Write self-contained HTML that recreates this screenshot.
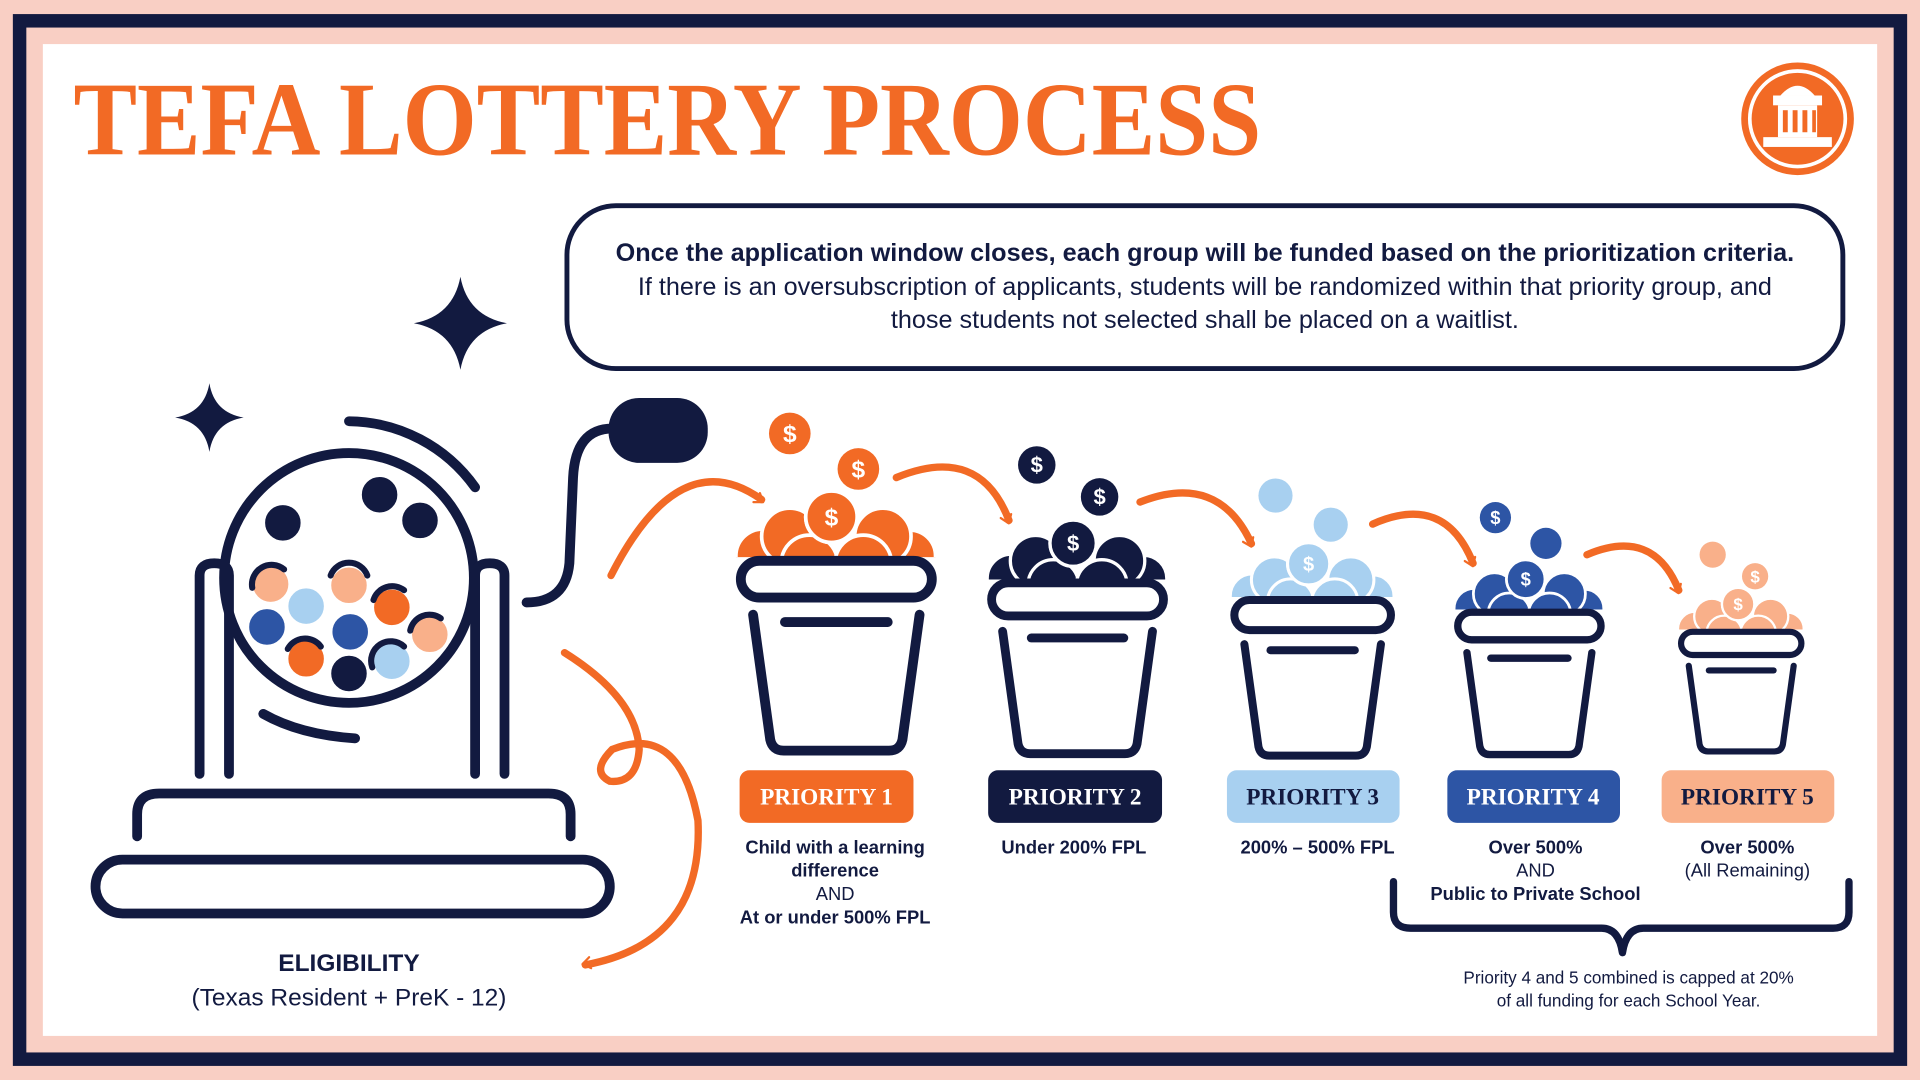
<!DOCTYPE html>
<html><head><meta charset="utf-8"><style>
html,body{margin:0;padding:0;background:#f9cfc4;}
svg{display:block}
.s{font-family:"Liberation Serif",serif;font-weight:bold}
.n{font-family:"Liberation Sans",sans-serif}
</style></head><body>
<svg width="1920" height="1080" viewBox="0 0 1568 882" xmlns="http://www.w3.org/2000/svg">
<defs>
<marker id="ah" viewBox="0 0 20 20" refX="12" refY="10" markerWidth="7" markerHeight="7" orient="auto" markerUnits="userSpaceOnUse" style="overflow:visible">
<path d="M0 0 L14 10 L0 20" fill="none" stroke="#f26a25" stroke-width="4" stroke-linecap="round" stroke-linejoin="round" transform="scale(1.3)"/>
</marker>
<g id="bucket" fill="none" stroke="#121a40" stroke-width="8" stroke-linecap="round" stroke-linejoin="round">
<rect x="-78" y="0" width="156" height="30" rx="15" fill="#fff"/>
<path d="M-68 44 L-54 146 Q-52 155 -43 155 L43 155 Q52 155 54 146 L68 44"/>
<path d="M-42 50 L42 50"/>
</g>
<clipPath id="cc"><rect x="-100" y="-200" width="200" height="197"/></clipPath>
<g id="coins" clip-path="url(#cc)" stroke="#fff" stroke-width="3">
<circle cx="-60" cy="-4" r="22"/><circle cx="60" cy="-4" r="21"/>
<circle cx="-38" cy="-20" r="23"/><circle cx="38" cy="-20" r="23"/>
<circle cx="-22" cy="2" r="23"/><circle cx="22" cy="2" r="23"/>
<circle cx="-4" cy="-36" r="21"/>
</g>
</defs>
<rect width="1568" height="882" fill="#f9cfc4"/>
<rect x="16" y="17" width="1536" height="848" fill="none" stroke="#121a40" stroke-width="11"/>
<rect x="35" y="36" width="1498" height="810" fill="#fff"/>

<text x="60" y="126" class="s" font-size="86" fill="#f26a25" textLength="970" lengthAdjust="spacingAndGlyphs">TEFA LOTTERY PROCESS</text>

<circle cx="1468" cy="97" r="46" fill="#f26a25"/>
<circle cx="1468" cy="97" r="39" fill="none" stroke="#fff" stroke-width="3"/>
<g fill="#fff"><rect x="1448" y="78" width="40" height="8"/><rect x="1452" y="86" width="32" height="26"/><rect x="1440" y="112" width="56" height="8"/><path d="M1454 78 Q1468 62 1482 78Z"/></g>
<g fill="#f26a25"><rect x="1456" y="90" width="4" height="18"/><rect x="1464" y="90" width="4" height="18"/><rect x="1472" y="90" width="4" height="18"/><rect x="1480" y="90" width="3" height="18"/></g>

<rect x="463" y="168" width="1042" height="133" rx="40" fill="#fff" stroke="#121a40" stroke-width="4"/>
<g class="n" font-size="20.6" fill="#121a40" text-anchor="middle">
<text x="984" y="213" font-weight="bold">Once the application window closes, each group will be funded based on the prioritization criteria.</text>
<text x="984" y="241">If there is an oversubscription of applicants, students will be randomized within that priority group, and</text>
<text x="984" y="268">those students not selected shall be placed on a waitlist.</text>
</g>

<path d="M376 226 Q382 258 414 264 Q382 270 376 302 Q370 270 338 264 Q370 258 376 226Z" fill="#121a40"/>
<path d="M171 313 Q175 337 199 341 Q175 345 171 369 Q167 345 143 341 Q167 337 171 313Z" fill="#121a40"/>

<g fill="none" stroke="#121a40" stroke-width="8" stroke-linecap="round">
<circle cx="285" cy="472" r="102"/>
<path d="M285 344 A128 128 0 0 1 388 398"/>
<path d="M290 603 Q245 600 215 583"/>
<path d="M163 632 L163 470 Q163 460 175 460 Q187 460 187 470 L187 632"/>
<path d="M388 632 L388 470 Q388 460 400 460 Q412 460 412 470 L412 632"/>
<path d="M112 683 L112 665 Q112 648 130 648 L448 648 Q466 648 466 665 L466 683"/>
<rect x="78" y="702" width="420" height="44" rx="22"/>
<path d="M430 492 Q462 492 465 460 L468 390 Q470 350 500 350"/>
</g>
<rect x="497" y="325" width="81" height="53" rx="25" fill="#121a40"/>
<g stroke="#fff" stroke-width="3">
<circle cx="231" cy="427" r="16" fill="#121a40"/>
<circle cx="310" cy="404" r="16" fill="#121a40"/>
<circle cx="343" cy="425" r="16" fill="#121a40"/>
<circle cx="221" cy="477" r="16" fill="#f9b08a"/>
<circle cx="285" cy="478" r="16" fill="#f9b08a"/>
<circle cx="250" cy="495" r="16" fill="#a8d0f0"/>
<circle cx="320" cy="496" r="16" fill="#f26a25"/>
<circle cx="218" cy="512" r="16" fill="#2d55a5"/>
<circle cx="286" cy="516" r="16" fill="#2d55a5"/>
<circle cx="351" cy="518" r="16" fill="#f9b08a"/>
<circle cx="250" cy="538" r="16" fill="#f26a25"/>
<circle cx="285" cy="550" r="16" fill="#121a40"/>
<circle cx="320" cy="540" r="16" fill="#a8d0f0"/>
</g>
<g fill="none" stroke="#121a40" stroke-width="5" stroke-linecap="round">
<path d="M206 480 A16 16 0 0 1 232 465"/><path d="M270 470 A16 16 0 0 1 300 470"/>
<path d="M305 490 A16 16 0 0 1 330 482"/><path d="M335 515 A16 16 0 0 1 360 505"/>
<path d="M235 530 A16 16 0 0 1 262 528"/><path d="M304 545 A16 16 0 0 1 330 528"/>
</g>
<text x="285" y="793" class="n" font-size="20" font-weight="bold" fill="#121a40" text-anchor="middle">ELIGIBILITY</text>
<text x="285" y="821" class="n" font-size="20" fill="#121a40" text-anchor="middle">(Texas Resident + PreK - 12)</text>

<g fill="none" stroke="#f26a25" stroke-width="6" stroke-linecap="round" marker-end="url(#ah)">
<path d="M499 470 Q555 360 622 408"/>
<path d="M732 390 Q800 362 824 425"/>
<path d="M931 410 Q995 385 1022 444"/>
<path d="M1121 428 Q1180 402 1203 460"/>
<path d="M1296 453 Q1350 430 1371 482"/>
<path d="M461 533 Q520 570 522 612 Q520 640 498 638 Q482 630 500 612 Q555 590 570 670 Q575 770 478 788"/>
</g>

<g transform="translate(683 458)" fill="#f26a25"><use href="#coins"/>
<circle cx="-4" cy="-36" r="21" stroke="#fff" stroke-width="3"/>
<circle cx="-38" cy="-104" r="17"/><circle cx="18" cy="-75" r="17"/>
<g fill="#fff" class="n" font-weight="bold" font-size="20" text-anchor="middle"><text x="-4" y="-29">$</text><text x="-38" y="-97">$</text><text x="18" y="-68">$</text></g>
<use href="#bucket"/></g>

<g transform="translate(880 476) scale(0.9)" fill="#121a40"><use href="#coins"/>
<circle cx="-4" cy="-36" r="21" stroke="#fff" stroke-width="3"/>
<circle cx="-37" cy="-107" r="17"/><circle cx="20" cy="-78" r="17"/>
<g fill="#fff" class="n" font-weight="bold" font-size="20" text-anchor="middle"><text x="-4" y="-29">$</text><text x="-37" y="-100">$</text><text x="20" y="-71">$</text></g>
<use href="#bucket"/></g>

<g transform="translate(1072 490) scale(0.82)" fill="#a8d0f0"><use href="#coins"/>
<circle cx="-4" cy="-36" r="21" stroke="#fff" stroke-width="3"/>
<circle cx="-37" cy="-104" r="17"/><circle cx="18" cy="-75" r="17"/>
<g fill="#fff" class="n" font-weight="bold" font-size="20" text-anchor="middle"><text x="-4" y="-29">$</text></g>
<use href="#bucket"/></g>

<g transform="translate(1249 500) scale(0.75)" fill="#2d55a5"><use href="#coins"/>
<circle cx="-4" cy="-36" r="21" stroke="#fff" stroke-width="3"/>
<circle cx="-37" cy="-103" r="17"/><circle cx="18" cy="-75" r="17"/>
<g fill="#fff" class="n" font-weight="bold" font-size="20" text-anchor="middle"><text x="-4" y="-29">$</text><text x="-37" y="-96">$</text></g>
<use href="#bucket"/></g>

<g transform="translate(1422 516) scale(0.63)" fill="#f9b08a"><use href="#coins"/>
<circle cx="-4" cy="-36" r="21" stroke="#fff" stroke-width="3"/>
<circle cx="-37" cy="-100" r="17"/><circle cx="18" cy="-72" r="17"/>
<g fill="#fff" class="n" font-weight="bold" font-size="22" text-anchor="middle"><text x="-4" y="-28">$</text><text x="18" y="-64">$</text></g>
<use href="#bucket"/></g>

<rect x="604" y="629" width="142" height="43" rx="8" fill="#f26a25"/>
<rect x="807" y="629" width="142" height="43" rx="8" fill="#121a40"/>
<rect x="1002" y="629" width="141" height="43" rx="8" fill="#a8d0f0"/>
<rect x="1182" y="629" width="141" height="43" rx="8" fill="#2d55a5"/>
<rect x="1357" y="629" width="141" height="43" rx="8" fill="#f9b08a"/>
<g class="s" font-size="19" text-anchor="middle">
<text x="675" y="657" fill="#fff">PRIORITY 1</text>
<text x="878" y="657" fill="#fff">PRIORITY 2</text>
<text x="1072" y="657" fill="#121a40">PRIORITY 3</text>
<text x="1252" y="657" fill="#fff">PRIORITY 4</text>
<text x="1427" y="657" fill="#121a40">PRIORITY 5</text>
</g>
<g class="n" font-size="15" fill="#121a40" text-anchor="middle">
<text x="682" y="697" font-weight="bold">Child with a learning</text>
<text x="682" y="716" font-weight="bold">difference</text>
<text x="682" y="735">AND</text>
<text x="682" y="754" font-weight="bold">At or under 500% FPL</text>
<text x="877" y="697" font-weight="bold">Under 200% FPL</text>
<text x="1076" y="697" font-weight="bold">200% – 500% FPL</text>
<text x="1254" y="697" font-weight="bold">Over 500%</text>
<text x="1254" y="716">AND</text>
<text x="1254" y="735" font-weight="bold">Public to Private School</text>
<text x="1427" y="697" font-weight="bold">Over 500%</text>
<text x="1427" y="716">(All Remaining)</text>
</g>
<path d="M1138 720 L1138 745 Q1138 758 1152 758 L1308 758 Q1322 758 1325 778 Q1328 758 1342 758 L1497 758 Q1510 758 1510 745 L1510 720" fill="none" stroke="#121a40" stroke-width="6" stroke-linecap="round" stroke-linejoin="round"/>
<g class="n" font-size="14" fill="#121a40" text-anchor="middle">
<text x="1330" y="803">Priority 4 and 5 combined is capped at 20%</text>
<text x="1330" y="822">of all funding for each School Year.</text>
</g>
</svg>
</body></html>
